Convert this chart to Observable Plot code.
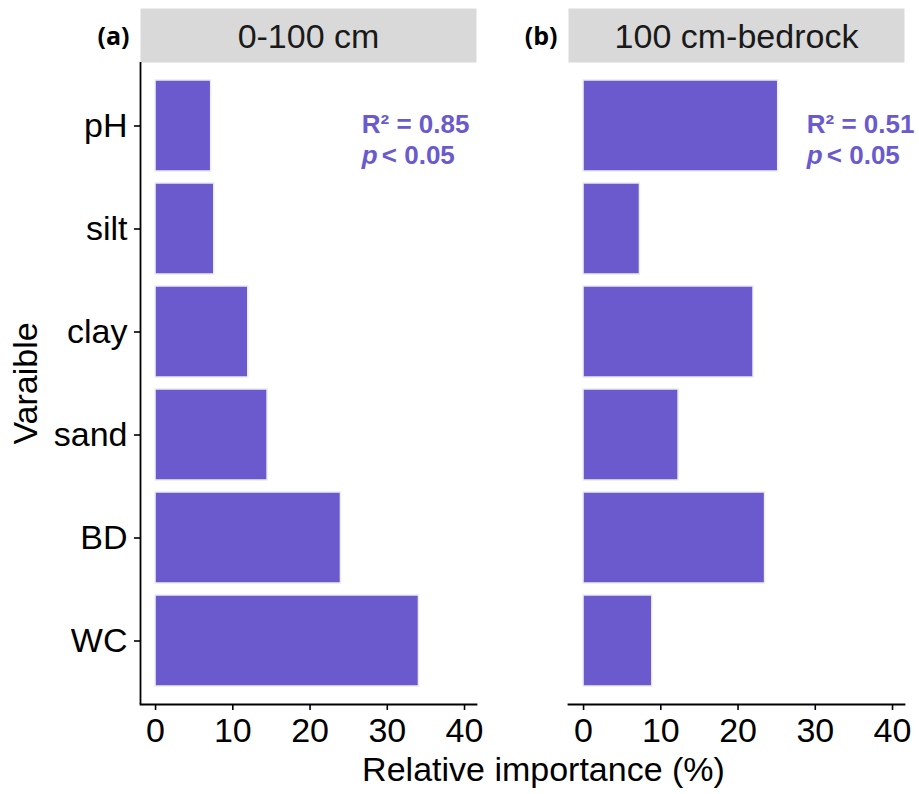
<!DOCTYPE html>
<html>
<head>
<meta charset="utf-8">
<script src="https://cdn.jsdelivr.net/npm/d3@7"></script>
<script src="https://cdn.jsdelivr.net/npm/@observablehq/plot@0.6"></script>
<style>
  html, body { margin: 0; padding: 0; background: #fff; }
  #chart svg { display: block; }
</style>
</head>
<body>
<div id="chart"></div>
<script>
// ---- data ----
const variables = ["pH", "silt", "clay", "sand", "BD", "WC"];
const depths = ["0-100 cm", "100 cm-bedrock"];
const panelTags = ["(a)", "(b)"];
const importance0to100 = [7.2, 7.6, 12.0, 14.5, 24.0, 34.1];
const importance100toBedrock = [25.2, 7.3, 22.0, 12.3, 23.5, 8.9];
const r2Labels = ["R\u00B2 = 0.85", "R\u00B2 = 0.51"];
const pLabels = ["< 0.05", "< 0.05"];
const annotationX = [26.7, 28.9];
const xTicks = [0, 10, 20, 30, 40];
const xDomain = [-1.95, 41.55];

const rows = [];
variables.forEach((v, i) => {
  rows.push({depth: depths[0], variable: v, value: importance0to100[i]});
  rows.push({depth: depths[1], variable: v, value: importance100toBedrock[i]});
});
const annos = depths.map((d, i) => ({depth: d, tag: panelTags[i], r2: r2Labels[i], p: pLabels[i], x: annotationX[i]}));

const purple = "#6A5ACD";
const font = "'Liberation Sans', Arial, sans-serif";

const chart = Plot.plot({
  width: 919,
  height: 794,
  marginLeft: 139.3,
  marginRight: 15,
  marginTop: 62,
  marginBottom: 90,
  style: {fontFamily: font, fontSize: "34px", color: "black", background: "white", overflow: "visible"},
  fx: {domain: depths, paddingInner: 0.215, paddingOuter: 0, axis: null},
  x: {domain: xDomain},
  y: {domain: variables, paddingInner: 0.12, paddingOuter: 0.16},
  marks: [
    // strip background
    Plot.frame({fill: "#d9d9d9", stroke: null, insetTop: -54, insetBottom: 642}),
    Plot.text(annos, {fx: "depth", text: "depth", frameAnchor: "top", lineAnchor: "middle", dy: -25, fontSize: 34, fill: "#1a1a1a"}),
    Plot.text(annos, {fx: "depth", text: "tag", frameAnchor: "top-left", lineAnchor: "middle", textAnchor: "end", dx: -11, dy: -26, fontSize: 25, fontWeight: "bold", fontFamily: "'Open Sans', sans-serif", fill: "black"}),
    // bars
    Plot.barX(rows, {fx: "depth", y: "variable", x: "value", fill: purple, stroke: "#ececec", strokeWidth: 1.5}),
    // annotations
    Plot.text(annos, {fx: "depth", x: "x", text: "r2", frameAnchor: "top", lineAnchor: "middle", textAnchor: "start", dy: 62, fontSize: 26, fontWeight: "bold", fill: purple}),
    Plot.text(annos, {fx: "depth", x: "x", text: () => "p", frameAnchor: "top", lineAnchor: "middle", textAnchor: "start", dy: 93, fontSize: 26, fontWeight: "bold", fontStyle: "italic", fill: purple}),
    Plot.text(annos, {fx: "depth", x: "x", text: "p", frameAnchor: "top", lineAnchor: "middle", textAnchor: "start", dx: 20, dy: 93, fontSize: 26, fontWeight: "bold", fill: purple}),
    // axis lines
    Plot.frame({anchor: "bottom", stroke: "black", strokeWidth: 1.8}),
    Plot.ruleX(annos.slice(0, 1), {fx: "depth", x: () => xDomain[0], stroke: "black", strokeWidth: 1.8}),
    // axes
    Plot.axisY({tickSize: 6, tickPadding: 7, fontSize: 34, label: null, stroke: "black", strokeWidth: 1.6, fill: "black"}),
    Plot.axisX({ticks: xTicks, tickSize: 6, tickPadding: 7, fontSize: 34, label: null, stroke: "black", strokeWidth: 1.6, fill: "black"}),
    // axis titles
    Plot.text(["Varaible"], {facet: "super", text: d => d, frameAnchor: "left", rotate: -90, textAnchor: "middle", lineAnchor: "middle", dx: -114, fontSize: 34, fill: "black"}),
    Plot.text(["Relative importance (%)"], {facet: "super", text: d => d, frameAnchor: "bottom", textAnchor: "middle", lineAnchor: "middle", dx: 21, dy: 66, fontSize: 34, fill: "black"})
  ]
});
document.getElementById("chart").appendChild(chart);
</script>
</body>
</html>
